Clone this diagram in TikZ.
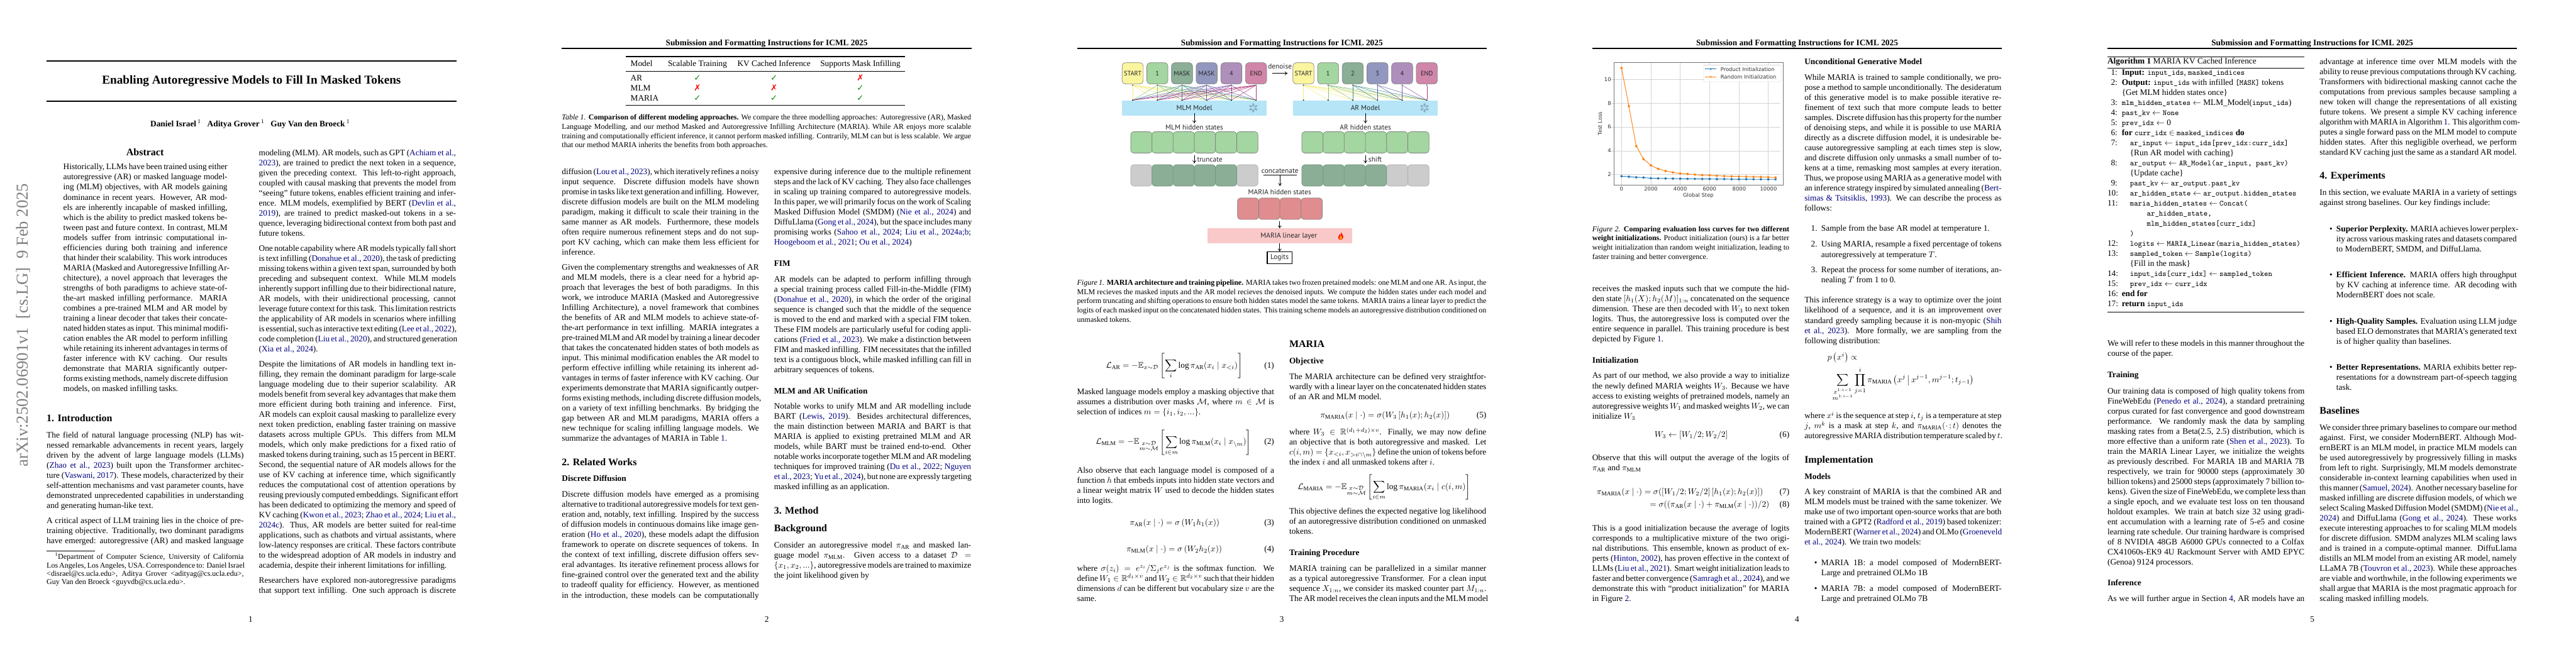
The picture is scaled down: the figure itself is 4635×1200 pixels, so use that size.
\documentclass[tikz,border=0pt]{standalone}
\usepackage{amsmath,amssymb}
\usepackage{fontspec}
\setmainfont{Liberation Serif}
\newfontfamily\figf{PT Sans}
\newfontfamily\plotf{DejaVu Sans}
\usetikzlibrary{arrows.meta}
\definecolor{lnk}{rgb}{0,0,0.5}
\definecolor{tka}{HTML}{FBF5A0}\definecolor{tkb}{HTML}{A3D6A0}\definecolor{tkc}{HTML}{8AAE96}
\definecolor{tkd}{HTML}{9297BF}\definecolor{tke}{HTML}{AE8FBC}\definecolor{tkf}{HTML}{D086A8}
\definecolor{lna}{HTML}{F2EA5A}\definecolor{lnb}{HTML}{7DB96A}\definecolor{lnc}{HTML}{1F7A6B}
\definecolor{lnd}{HTML}{4B4F9E}\definecolor{lne}{HTML}{7B3FA0}\definecolor{lnf}{HTML}{A0185F}
\definecolor{modelblue}{HTML}{B5E5F7}\definecolor{linpink}{HTML}{F9C9C9}\definecolor{hidred}{HTML}{E08D90}
\definecolor{hidgray}{HTML}{CCCCCC}\definecolor{edgegray}{HTML}{7F7F7F}\definecolor{flake}{HTML}{7E9BB0}
\definecolor{plotblue}{HTML}{1F77B4}\definecolor{plotorange}{HTML}{FF7F0E}\definecolor{gridc}{HTML}{D4D4D4}
\definecolor{okgreen}{HTML}{0A8A0A}
\newdimen\jw
\newcommand\JJ[1]{\hbox to\jw{#1}}
\newcommand\EE[1]{\hbox to\jw{#1\hfil}}
\newcommand\cit[1]{\textcolor{lnk}{#1}}
\newcommand\ttc[1]{{\fontsize{9.2}{12}\selectfont\ttfamily #1}}
\newcommand\cw{234.87pt}\newcommand\abw{195.6pt}\newcommand\fw{487.8pt}\newcommand\bw{215pt}
% name, x, y, width, pitch, lines
\newcommand\pblock[6]{\node[txt] (#1) at (#2,#3) {\jw=#4\relax\vtop{\baselineskip=#5\lineskiplimit=-100pt\hfuzz=20pt\hbadness=10000 #6}};}
\newcommand\lab[4]{\node[txt] (#1) at (#2,#3) {#4};}
\newcommand\hdg[5]{\node[txt,font=\bfseries\fontsize{#4}{#4}\selectfont] (#1) at (#2,#3) {#5};}
\newcommand\eqn[4]{\node[txt,anchor=base east] (#1) at (#2,#3) {(#4)};}
\newcommand\AL[3]{\hbox{\hbox to 11.9pt{\hfil #1}\hskip 5.1pt\hskip #2\relax #3}}
\newcommand\pagehead[3]{\node[anchor=base,inner sep=0,font=\bfseries] (#1) at (#2+368.5,81.5) {Submission and Formatting Instructions for ICML 2025};
 \draw[line width=1pt] (#2,87.3) -- (#2+737,87.3);
 \node[anchor=base,inner sep=0] (#3) at (#2+368.5,1120) {\pgfmathparse{int((#2-84)/927+1)}\pgfmathresult};}
\newcommand\flakeicon[3]{\begin{scope}[shift={(#2,#3)},flake,line width=.45pt]
 \coordinate (#1) at (0,0);
 \foreach \a in {30,90,...,330}{\draw (\a:2)--(\a:8.5); \draw (\a:5.2)--++(\a+45:2.6); \draw (\a:5.2)--++(\a-45:2.6);}
 \draw (30:5.2)--(90:5.2)--(150:5.2)--(210:5.2)--(270:5.2)--(330:5.2)--cycle;
\end{scope}}
\tikzset{
 txt/.style={anchor=base west,inner sep=0,outer sep=0},
 tok/.style={draw=edgegray,line width=.5pt,rounded corners=4pt,minimum width=25.2pt,minimum height=25.4pt,inner sep=0,font=\figf\fontsize{7.8}{7.8}\selectfont,text=black!85},
 hid/.style={draw=edgegray,line width=.5pt,rounded corners=3.6pt,minimum width=25.25pt,minimum height=25.6pt,inner sep=0},
 flbl/.style={inner sep=0,font=\figf\fontsize{8.5}{8.5}\selectfont,text=black!85},
 farr/.style={-{To[length=3.4pt,width=4.5pt]},line width=.55pt},
 dotc/.style={circle,fill=black,inner sep=0,minimum size=1.4pt},
 edgeln/.style={line width=.4pt,opacity=.85},
 tbr/.style={line width=.6pt},
 ptick/.style={inner sep=0,font=\plotf\fontsize{6.3}{6.3}\selectfont,text=black!80},
}
\begin{document}
\begin{tikzpicture}[x=0.6625pt,y=-0.6625pt]
\useasboundingbox (0,0) rectangle (4635,1200);
\fill[white] (0,0) rectangle (4635,1200);
%%%%%%%%%%%%%%%% PAGE 1
\node[rotate=90,anchor=base,inner sep=0,text=black!50,font=\fontsize{20}{20}\selectfont] (stamp) at (50,585) {arXiv:2502.06901v1\ \ [cs.LG]\ \ 9 Feb 2025};
\draw[line width=1.1pt] (84,109.8) -- (821,109.8);
\draw[line width=1.1pt] (84,182) -- (821,182);
\node[anchor=base,inner sep=0,font=\bfseries\fontsize{14.4}{14.4}\selectfont] (title) at (452.5,151) {Enabling Autoregressive Models to Fill In Masked Tokens};
\node[anchor=base,inner sep=0,font=\bfseries] (authors) at (450,228) {Daniel Israel\,\textsuperscript{\mdseries 1}\ \ \ Aditya Grover\,\textsuperscript{\mdseries 1}\ \ \ Guy Van den Broeck\,\textsuperscript{\mdseries 1}};
\node[anchor=base,inner sep=0,font=\bfseries\fontsize{12}{12}\selectfont] (abshead) at (261,280) {Abstract};
\pblock{abs}{114}{305.5}{\abw}{12pt}{%
\JJ{Historically, LLMs have been trained using either}
\JJ{autoregressive (AR) or masked language model-}
\JJ{ing (MLM) objectives, with AR models gaining}
\JJ{dominance in recent years. However, AR mod-}
\JJ{els are inherently incapable of masked infilling,}
\JJ{which is the ability to predict masked tokens be-}
\JJ{tween past and future context. In contrast, MLM}
\JJ{models suffer from intrinsic computational in-}
\JJ{efficiencies during both training and inference}
\JJ{that hinder their scalability. This work introduces}
\JJ{MARIA (Masked and Autoregressive Infilling Ar-}
\JJ{chitecture), a novel approach that leverages the}
\JJ{strengths of both paradigms to achieve state-of-}
\JJ{the-art masked infilling performance. MARIA}
\JJ{combines a pre-trained MLM and AR model by}
\JJ{training a linear decoder that takes their concate-}
\JJ{nated hidden states as input. This minimal modifi-}
\JJ{cation enables the AR model to perform infilling}
\JJ{while retaining its inherent advantages in terms of}
\JJ{faster inference with KV caching. Our results}
\JJ{demonstrate that MARIA significantly outper-}
\JJ{forms existing methods, namely discrete diffusion}
\EE{models, on masked infilling tasks.}}
\hdg{sec1}{84}{759}{12}{1. Introduction}
\pblock{intro1}{84}{788}{\cw}{12pt}{%
\JJ{The field of natural language processing (NLP) has wit-}
\JJ{nessed remarkable advancements in recent years, largely}
\JJ{driven by the advent of large language models (LLMs)}
\JJ{(\cit{Zhao et al., 2023}) built upon the Transformer architec-}
\JJ{ture (\cit{Vaswani, 2017}). These models, characterized by their}
\JJ{self-attention mechanisms and vast parameter counts, have}
\JJ{demonstrated unprecedented capabilities in understanding}
\EE{and generating human-like text.}}
\pblock{intro2}{84}{942}{\cw}{12pt}{%
\JJ{A critical aspect of LLM training lies in the choice of pre-}
\JJ{training objective. Traditionally, two dominant paradigms}
\JJ{have emerged: autoregressive (AR) and masked language}}
\draw[line width=.4pt] (84,991.5) -- (171,991.5);
\node[txt,font=\fontsize{9}{10}\selectfont] (foot) at (84,1007) {\jw=\cw\relax\vtop{\baselineskip=10pt\lineskiplimit=-100pt\hfuzz=20pt\hbadness=10000
\JJ{\hskip 10pt\textsuperscript{1}Department of Computer Science, University of California}
\JJ{Los Angeles, Los Angeles, USA. Correspondence to: Daniel Israel}
\JJ{<disrael@cs.ucla.edu>, Aditya Grover <adityag@cs.ucla.edu>,}
\EE{Guy Van den Broeck <guyvdb@cs.ucla.edu>.}}};
\pblock{r1a}{465.8}{279.5}{\cw}{12pt}{%
\JJ{modeling (MLM). AR models, such as GPT (\cit{Achiam et al.,}}
\JJ{\cit{2023}), are trained to predict the next token in a sequence,}
\JJ{given the preceding context. This left-to-right approach,}
\JJ{coupled with causal masking that prevents the model from}
\JJ{``seeing'' future tokens, enables efficient training and infer-}
\JJ{ence. MLM models, exemplified by BERT (\cit{Devlin et al.,}}
\JJ{\cit{2019}), are trained to predict masked-out tokens in a se-}
\JJ{quence, leveraging bidirectional context from both past and}
\EE{future tokens.}}
\pblock{r1b}{465.8}{451.7}{\cw}{12pt}{%
\JJ{One notable capability where AR models typically fall short}
\JJ{is text infilling (\cit{Donahue et al., 2020}), the task of predicting}
\JJ{missing tokens within a given text span, surrounded by both}
\JJ{preceding and subsequent context. While MLM models}
\JJ{inherently support infilling due to their bidirectional nature,}
\JJ{AR models, with their unidirectional processing, cannot}
\JJ{leverage future context for this task. This limitation restricts}
\JJ{the applicability of AR models in scenarios where infilling}
\JJ{is essential, such as interactive text editing (\cit{Lee et al., 2022}),}
\JJ{code completion (\cit{Liu et al., 2020}), and structured generation}
\EE{(\cit{Xia et al., 2024}).}}
\pblock{r1c}{465.8}{659.8}{\cw}{12pt}{%
\JJ{Despite the limitations of AR models in handling text in-}
\JJ{filling, they remain the dominant paradigm for large-scale}
\JJ{language modeling due to their superior scalability. AR}
\JJ{models benefit from several key advantages that make them}
\JJ{more efficient during both training and inference. First,}
\JJ{AR models can exploit causal masking to parallelize every}
\JJ{next token prediction, enabling faster training on massive}
\JJ{datasets across multiple GPUs. This differs from MLM}
\JJ{models, which only make predictions for a fixed ratio of}
\JJ{masked tokens during training, such as 15 percent in BERT.}
\JJ{Second, the sequential nature of AR models allows for the}
\JJ{use of KV caching at inference time, which significantly}
\JJ{reduces the computational cost of attention operations by}
\JJ{reusing previously computed embeddings. Significant effort}
\JJ{has been dedicated to optimizing the memory and speed of}
\JJ{KV caching (\cit{Kwon et al., 2023}; \cit{Zhao et al., 2024}; \cit{Liu et al.,}}
\JJ{\cit{2024c}). Thus, AR models are better suited for real-time}
\JJ{applications, such as chatbots and virtual assistants, where}
\JJ{low-latency responses are critical. These factors contribute}
\JJ{to the widespread adoption of AR models in industry and}
\EE{academia, despite their inherent limitations for infilling.}}
\pblock{r1d}{465.8}{1049.7}{\cw}{12pt}{%
\JJ{Researchers have explored non-autoregressive paradigms}
\JJ{that support text infilling. One such approach is discrete}}
\node[anchor=base,inner sep=0] (pn1) at (451,1120) {1};
%%%%%%%%%%%%%%%% PAGE 2
\pagehead{h2}{1011}{pn2}
\draw[line width=1pt] (1125.7,102) -- (1628.7,102);
\draw[tbr] (1125.7,127.8) -- (1628.7,127.8);
\draw[line width=.9pt] (1125.7,189.8) -- (1628.7,189.8);
\lab{t00}{1134.6}{119.5}{Model}
\node[anchor=base,inner sep=0] (t01) at (1255,119.5) {Scalable Training};
\node[anchor=base,inner sep=0] (t02) at (1392.6,119.5) {KV Cached Inference};
\node[anchor=base,inner sep=0] (t03) at (1548,119.5) {Supports Mask Infilling};
\lab{t10}{1134.6}{145}{AR}\lab{t20}{1134.6}{163}{MLM}\lab{t30}{1134.6}{181.2}{MARIA}
\tikzset{yes/.style={anchor=base,inner sep=0,text=okgreen,font=\plotf},no/.style={anchor=base,inner sep=0,text=red,font=\plotf}}
\node[yes] (t11) at (1255,145) {✓};\node[yes] (t12) at (1392.6,145) {✓};\node[no] (t13) at (1548,145) {✗};
\node[no] (t21) at (1255,163) {✗};\node[no] (t22) at (1392.6,163) {✗};\node[yes] (t23) at (1548,163) {✓};
\node[yes] (t31) at (1255,181.2) {✓};\node[yes] (t32) at (1392.6,181.2) {✓};\node[yes] (t33) at (1548,181.2) {✓};
\node[txt,font=\fontsize{9}{11}\selectfont] (cap1) at (1011,216) {\jw=\fw\relax\vtop{\baselineskip=11pt\lineskiplimit=-100pt\hfuzz=20pt\hbadness=10000
\JJ{\textit{Table 1.} \textbf{Comparison of different modeling approaches.} We compare the three modelling approaches: Autoregressive (AR), Masked}
\JJ{Language Modelling, and our method Masked and Autoregressive Infilling Architecture (MARIA). While AR enjoys more scalable}
\JJ{training and computationally efficient inference, it cannot perform masked infilling. Contrarily, MLM can but is less scalable. We argue}
\EE{that our method MARIA inherits the benefits from both approaches.}}};
\pblock{l2a}{1011}{313.5}{\cw}{12pt}{%
\JJ{diffusion (\cit{Lou et al., 2023}), which iteratively refines a noisy}
\JJ{input sequence. Discrete diffusion models have shown}
\JJ{promise in tasks like text generation and infilling. However,}
\JJ{discrete diffusion models are built on the MLM modeling}
\JJ{paradigm, making it difficult to scale their training in the}
\JJ{same manner as AR models. Furthermore, these models}
\JJ{often require numerous refinement steps and do not sup-}
\JJ{port KV caching, which can make them less efficient for}
\EE{inference.}}
\pblock{l2b}{1011}{485.7}{\cw}{12pt}{%
\JJ{Given the complementary strengths and weaknesses of AR}
\JJ{and MLM models, there is a clear need for a hybrid ap-}
\JJ{proach that leverages the best of both paradigms. In this}
\JJ{work, we introduce MARIA (Masked and Autoregressive}
\JJ{Infilling Architecture), a novel framework that combines}
\JJ{the benefits of AR and MLM models to achieve state-of-}
\JJ{the-art performance in text infilling. MARIA integrates a}
\JJ{pre-trained MLM and AR model by training a linear decoder}
\JJ{that takes the concatenated hidden states of both models as}
\JJ{input. This minimal modification enables the AR model to}
\JJ{perform effective infilling while retaining its inherent ad-}
\JJ{vantages in terms of faster inference with KV caching. Our}
\JJ{experiments demonstrate that MARIA significantly outper-}
\JJ{forms existing methods, including discrete diffusion models,}
\JJ{on a variety of text infilling benchmarks. By bridging the}
\JJ{gap between AR and MLM paradigms, MARIA offers a}
\JJ{new technique for scaling infilling language models. We}
\EE{summarize the advantages of MARIA in Table \cit{1}.}}
\hdg{sec2}{1011}{838}{12}{2. Related Works}
\hdg{ss21}{1011}{866.5}{10}{Discrete Diffusion}
\pblock{l2c}{1011}{895}{\cw}{12pt}{%
\JJ{Discrete diffusion models have emerged as a promising}
\JJ{alternative to traditional autoregressive models for text gen-}
\JJ{eration and, notably, text infilling. Inspired by the success}
\JJ{of diffusion models in continuous domains like image gen-}
\JJ{eration (\cit{Ho et al., 2020}), these models adapt the diffusion}
\JJ{framework to operate on discrete sequences of tokens. In}
\JJ{the context of text infilling, discrete diffusion offers sev-}
\JJ{eral advantages. Its iterative refinement process allows for}
\JJ{fine-grained control over the generated text and the ability}
\JJ{to tradeoff quality for efficiency. However, as mentioned}
\JJ{in the introduction, these models can be computationally}}
\pblock{r2a}{1392.8}{313.5}{\cw}{12pt}{%
\JJ{expensive during inference due to the multiple refinement}
\JJ{steps and the lack of KV caching. They also face challenges}
\JJ{in scaling up training compared to autoregressive models.}
\JJ{In this paper, we will primarily focus on the work of Scaling}
\JJ{Masked Diffusion Model (SMDM) (\cit{Nie et al., 2024}) and}
\JJ{DiffuLlama (\cit{Gong et al., 2024}), but the space includes many}
\JJ{promising works (\cit{Sahoo et al., 2024}; \cit{Liu et al., 2024a;b};}
\EE{\cit{Hoogeboom et al., 2021}; \cit{Ou et al., 2024})}}
\hdg{ss22}{1392.8}{479.5}{10}{FIM}
\pblock{r2b}{1392.8}{507}{\cw}{12pt}{%
\JJ{AR models can be adapted to perform infilling through}
\JJ{a special training process called Fill-in-the-Middle (FIM)}
\JJ{(\cit{Donahue et al., 2020}), in which the order of the original}
\JJ{sequence is changed such that the middle of the sequence}
\JJ{is moved to the end and marked with a special FIM token.}
\JJ{These FIM models are particularly useful for coding appli-}
\JJ{cations (\cit{Fried et al., 2023}). We make a distinction between}
\JJ{FIM and masked infilling. FIM necessitates that the infilled}
\JJ{text is a contiguous block, while masked infilling can fill in}
\EE{arbitrary sequences of tokens.}}
\hdg{ss23}{1392.8}{708.5}{10}{MLM and AR Unification}
\pblock{r2c}{1392.8}{736.3}{\cw}{12pt}{%
\JJ{Notable works to unify MLM and AR modelling include}
\JJ{BART (\cit{Lewis, 2019}). Besides architectural differences,}
\JJ{the main distinction between MARIA and BART is that}
\JJ{MARIA is applied to existing pretrained MLM and AR}
\JJ{models, while BART must be trained end-to-end. Other}
\JJ{notable works incorporate together MLM and AR modeling}
\JJ{techniques for improved training (\cit{Du et al., 2022}; \cit{Nguyen}}
\JJ{\cit{et al., 2023}; \cit{Yu et al., 2024}), but none are expressly targeting}
\EE{masked infilling as an application.}}
\hdg{sec3}{1392.8}{925}{12}{3. Method}
\hdg{ss31}{1392.8}{957}{12}{Background}
\pblock{r2d}{1392.8}{986}{\cw}{12pt}{%
\JJ{Consider an autoregressive model $\pi_{\mathrm{AR}}$ and masked lan-}
\JJ{guage model $\pi_{\mathrm{MLM}}$. Given access to a dataset $\mathcal{D}=$}
\JJ{$\{x_1,x_2,...\}$, autoregressive models are trained to maximize}
\EE{the joint likelihood given by}}
%%%%%%%%%%%%%%%% PAGE 3
\pagehead{h3}{1938}{pn3}
% tokens MLM
\foreach \n/\x/\c/\t in {a/2038/tka/START,b/2082.4/tkb/1,c/2126.8/tkc/MASK,d/2171.2/tkd/MASK,e/2215.6/tke/4,f/2260/tkf/END}{
 \node[tok,fill=\c] (ml\n) at (\x,132) {\t};
 \node[dotc] (mt\n) at (\x,153.3) {};
 \node[dotc] (mb\n) at (\x,180.3) {};
}
\foreach \n/\x/\c/\t in {a/2345.3/tka/START,b/2389.7/tkb/1,c/2434.1/tkc/2,d/2478.5/tkd/3,e/2522.9/tke/4,f/2567.3/tkf/END}{
 \node[tok,fill=\c] (ar\n) at (\x,132) {\t};
 \node[dotc] (at\n) at (\x,153.3) {};
 \node[dotc] (ab\n) at (\x,180.3) {};
}
\foreach \n in {a,b,c,d,e,f}{\foreach \m in {a,b,c,d,e,f}{\draw[edgeln,color=ln\n] (mt\n)--(mb\m);}}
\foreach \n/\l in {a/{a,b,c,d,e,f},b/{b,c,d,e,f},c/{c,d,e,f},d/{d,e,f},e/{e,f},f/{f}}{\foreach \m in \l {\draw[edgeln,color=ln\n] (at\n)--(ab\m);}}
\node[fill=modelblue,minimum width=172.5pt,minimum height=17.9pt,inner sep=0,flbl] (mlmbox) at (2149,194.2) {MLM Model};
\node[fill=modelblue,minimum width=172.5pt,minimum height=17.9pt,inner sep=0,flbl] (arbox) at (2456.8,194.2) {AR Model};
\foreach \n/\x in {a/2038,b/2082.4,c/2126.8,d/2171.2,e/2215.6,f/2260}{\node[dotc] (mbt\n) at (\x,180.3) {};}
\foreach \n/\x in {a/2345.3,b/2389.7,c/2434.1,d/2478.5,e/2522.9,f/2567.3}{\node[dotc] (abt\n) at (\x,180.3) {};}
\flakeicon{fla}{2255}{194}\flakeicon{flb}{2563}{194}
\node[flbl] (dn) at (2303,120) {denoise};
\coordinate (dn1) at (2289.5,132);\coordinate (dn2) at (2316.8,132);
\draw[farr] (dn1)--(dn2);
\coordinate (a1) at (2149,204);\coordinate (a2) at (2149,222);
\coordinate (b1) at (2456.8,204);\coordinate (b2) at (2456.8,222);
\draw[farr] (a1)--(a2);\draw[farr] (b1)--(b2);
\node[flbl] (mh) at (2149,229) {MLM hidden states};
\node[flbl] (ah) at (2456.8,229) {AR hidden states};
\foreach \i in {0,...,5}{
 \node[hid,fill=tkb] (mh\i) at (2053.6+\i*38.15,256.3) {};
 \node[hid,fill=tkb] (ah\i) at (2361.4+\i*38.15,256.3) {};
}
\coordinate (c1) at (2149,280);\coordinate (c2) at (2149,294);
\coordinate (d1) at (2456.8,280);\coordinate (d2) at (2456.8,294);
\draw[farr] (c1)--(c2);\draw[farr] (d1)--(d2);
\node[flbl,anchor=west] (trc) at (2153.7,287) {truncate};
\node[flbl,anchor=west] (shf) at (2462,287) {shift};
\foreach \i/\c in {0/hidgray,5/hidgray,1/tkc,2/tkc,3/tkc,4/tkc}{
 \node[hid,fill=\c,draw=\c!85!black] (mq\i) at (2053.6+\i*38.15,315.7) {};
}
\foreach \i/\c in {4/hidgray,5/hidgray,0/tkc,1/tkc,2/tkc,3/tkc}{
 \node[hid,fill=\c,draw=\c!85!black] (aq\i) at (2361.4+\i*38.15,315.7) {};
}
\node[flbl] (cc) at (2303,308.3) {concatenate};
\coordinate (e0) at (2273,315.3);\coordinate (e2) at (2333.4,315.3);\coordinate (e1) at (2303,315.3);\coordinate (e3) at (2303,335);
\draw[line width=.7pt] (e0)--(e2);
\draw[farr] (e1)--(e3);
\node[flbl] (mah) at (2302.5,346.3) {MARIA hidden states};
\foreach \i in {0,...,3}{\node[hid,fill=hidred] (mr\i) at (2245.7+\i*38.15,375.7) {};}
\coordinate (f1) at (2302.5,398);\coordinate (f2) at (2302.5,411);
\draw[farr] (f1)--(f2);
\node[fill=linpink,minimum width=172.5pt,minimum height=18pt,inner sep=0] (lin) at (2303.1,424.4) {};
\node[flbl] (linl) at (2319,424.7) {MARIA linear layer};
\begin{scope}[shift={(2412.3,425)}]
 \fill[red!85!orange] (0,6.8) .. controls (-4.5,6.5) and (-5.5,2.5) .. (-3.5,-0.5) .. controls (-2.8,-2) and (-2.2,-2.5) .. (-2,-4) .. controls (-.8,-3.2) and (-.4,-2) .. (-.5,-1) .. controls (.6,-2.5) and (.8,-5) .. (.2,-7) .. controls (2.6,-5) and (4.5,-1.5) .. (4.6,1.5) .. controls (4.7,4.5) and (2.8,6.6) .. (0,6.8) -- cycle;
 \fill[orange!80!yellow] (0,6.3) .. controls (-2.6,6) and (-3,3) .. (-1.6,1) .. controls (-1,.2) and (-.3,-.5) .. (-.2,-1.5) .. controls (1.2,-.4) and (2.8,1.6) .. (2.6,3.6) .. controls (2.4,5.2) and (1.2,6.2) .. (0,6.3) -- cycle;
\end{scope}
\coordinate (g1) at (2302.5,438);\coordinate (g2) at (2302.5,452.7);
\draw[farr] (g1)--(g2);
\node[draw=black,line width=.8pt,minimum width=29.4pt,minimum height=14.6pt,inner sep=0,flbl] (logits) at (2302.3,463.7) {Logits};
\node[txt,font=\fontsize{9}{11}\selectfont] (cap2) at (1938,513) {\jw=\fw\relax\vtop{\baselineskip=11pt\lineskiplimit=-100pt\hfuzz=20pt\hbadness=10000
\JJ{\textit{Figure 1.} \textbf{MARIA architecture and training pipeline.} MARIA takes two frozen pretained models: one MLM and one AR. As input, the}
\JJ{MLM recieves the masked inputs and the AR model recieves the denoised inputs. We compute the hidden states under each model and}
\JJ{perform truncating and shifting operations to ensure both hidden states model the same tokens. MARIA trains a linear layer to predict the}
\JJ{logits of each masked input on the concatenated hidden states. This training scheme models an autoregressive distribution conditioned on}
\EE{unmasked tokens.}}};
\lab{eq1}{1990}{662}{$\displaystyle \mathcal{L}_{\mathrm{AR}}=-\mathbb{E}_{x\sim\mathcal{D}}\left[\sum_{i}\log\pi_{\mathrm{AR}}(x_i\mid x_{<i})\right]$}
\eqn{n1}{2292.5}{662}{1}
\pblock{l3a}{1938}{710}{\cw}{12pt}{%
\JJ{Masked language models employ a masking objective that}
\JJ{assumes a distribution over masks $\mathcal{M}$, where $m\in\mathcal{M}$ is}
\EE{selection of indices $m=\{i_1,i_2,...\}$.}}
\lab{eq2}{1971.6}{800}{$\displaystyle \mathcal{L}_{\mathrm{MLM}}=-\mathbb{E}_{\substack{x\sim\mathcal{D}\\ m\sim\mathcal{M}}}\left[\sum_{i\in m}\log\pi_{\mathrm{MLM}}(x_i\mid x_{\setminus m})\right]$}
\eqn{n2}{2292.5}{800}{2}
\pblock{l3b}{1938}{851.7}{\cw}{12pt}{%
\JJ{Also observe that each language model is composed of a}
\JJ{function $h$ that embeds inputs into hidden state vectors and}
\JJ{a linear weight matrix $W$ used to decode the hidden states}
\EE{into logits.}}
\lab{eq3}{2032.7}{945.5}{$\pi_{\mathrm{AR}}(x\mid\cdot)=\sigma\left(W_1h_1(x)\right)$}
\eqn{n3}{2292.5}{945.5}{3}
\lab{eq4}{2026.7}{993.2}{$\pi_{\mathrm{MLM}}(x\mid\cdot)=\sigma\left(W_2h_2(x)\right)$}
\eqn{n4}{2292.5}{993.2}{4}
\pblock{l3c}{1938}{1027.6}{\cw}{12pt}{%
\JJ{where $\sigma(z_i)=e^{z_i}/\Sigma_j e^{z_j}$ is the softmax function. We}
\JJ{define $W_1\in\mathbb{R}^{d_1\times v}$ and $W_2\in\mathbb{R}^{d_2\times v}$ such that their hidden}
\JJ{dimensions $d$ can be different but vocabulary size $v$ are the}
\EE{same.}}
\hdg{ss30}{2319.8}{625}{12}{MARIA}
\hdg{ss32}{2319.8}{655}{10}{Objective}
\pblock{r3a}{2319.8}{682.5}{\cw}{12pt}{%
\JJ{The MARIA architecture can be defined very straightfor-}
\JJ{wardly with a linear layer on the concatenated hidden states}
\EE{of an AR and MLM model.}}
\lab{eq5}{2375.5}{752}{$\pi_{\mathrm{MARIA}}(x\mid\cdot)=\sigma(W_3\left[h_1(x);h_2(x)\right])$}
\eqn{n5}{2674.4}{752}{5}
\pblock{r3b}{2319.8}{783}{\cw}{12pt}{%
\JJ{where $W_3\in\mathbb{R}^{(d_1+d_2)\times v}$. Finally, we may now define}
\JJ{an objective that is both autoregressive and masked. Let}
\JJ{$c(i,m)=\{x_{<i},x_{>i\cap\setminus m}\}$ define the union of tokens before}
\EE{the index $i$ and all unmasked tokens after $i$.}}
\lab{eq9}{2335}{880.5}{$\displaystyle \mathcal{L}_{\mathrm{MARIA}}=-\mathbb{E}_{\substack{x\sim\mathcal{D}\\ m\sim\mathcal{M}}}\left[\sum_{i\in m}\log\pi_{\mathrm{MARIA}}(x_i\mid c(i,m)\right]$}
\pblock{r3c}{2319.8}{925.4}{\cw}{12pt}{%
\JJ{This objective defines the expected negative log likelihood}
\JJ{of an autoregressive distribution conditioned on unmasked}
\EE{tokens.}}
\hdg{ss33}{2319.8}{1000}{10}{Training Procedure}
\pblock{r3d}{2319.8}{1027.6}{\cw}{12pt}{%
\JJ{MARIA training can be parallelized in a similar manner}
\JJ{as a typical autoregressive Transformer. For a clean input}
\JJ{sequence $X_{1:n}$, we consider its masked counter part $M_{1:n}$.}
\JJ{The AR model receives the clean inputs and the MLM model}}
%%%%%%%%%%%%%%%% PAGE 4
\pagehead{h4}{2865}{pn4}
\begin{scope}[shift={(2917.6,357)},x=0.01749pt,y=14.1775pt]
 \foreach \v in {0,2000,...,10000}{\draw[gridc,line width=.5pt] (\v,1.14) -- (\v,11.45);}
 \foreach \v in {2,4,...,10}{\draw[gridc,line width=.5pt] (-770,\v) -- (10840,\v);}
 \draw[plotblue,line width=.7pt,mark=*,mark size=1.15pt,mark options={fill=plotblue,draw=plotblue}] plot coordinates {(0,1.86)(500,1.82)(1000,1.77)(1500,1.75)(2000,1.69)(2500,1.68)(3000,1.67)(3500,1.66)(4000,1.65)(4500,1.64)(5000,1.64)(5500,1.63)(6000,1.63)(6500,1.62)(7000,1.62)(7500,1.61)(8000,1.61)(8500,1.61)(9000,1.60)(9500,1.60)(10000,1.60)(10500,1.60)};
 \draw[plotorange,line width=.7pt,mark=*,mark size=1.15pt,mark options={fill=plotorange,draw=plotorange}] plot coordinates {(0,10.96)(500,7.76)(1000,4.4)(1500,3.3)(2000,2.77)(2500,2.48)(3000,2.3)(3500,2.18)(4000,2.09)(4500,2.05)(5000,2.0)(5500,1.95)(6000,1.93)(6500,1.9)(7000,1.87)(7500,1.85)(8000,1.84)(8500,1.83)(9000,1.81)(9500,1.8)(10000,1.78)(10500,1.75)};
\end{scope}
\node[draw=black!55,line width=.55pt,minimum width=201.9pt,minimum height=146.1pt,inner sep=0] (axes) at (3056.4,222.3) {};
\node[draw=black!15,fill=white,fill opacity=.85,text opacity=1,line width=.4pt,rounded corners=1.5pt,minimum width=92.4pt,minimum height=20pt,inner sep=0] (legend) at (3135,132.2) {};
\coordinate (lg1a) at (3068,124.4);\coordinate (lg1b) at (3088.4,124.4);\coordinate (lg2a) at (3068,138.2);\coordinate (lg2b) at (3088.4,138.2);
\draw[plotblue,line width=.7pt] (lg1a)--(lg1b);\fill[plotblue] (3078.2,124.4) circle (1.7);
\draw[plotorange,line width=.7pt] (lg2a)--(lg2b);\fill[plotorange] (3078.2,138.2) circle (1.7);
\node[ptick,anchor=west] (lgt1) at (3095.5,124.4) {Product Initialization};
\node[ptick,anchor=west] (lgt2) at (3095.5,138.2) {Random Initialization};
\foreach \x/\t in {2917.6/0,2970.4/2000,3023.2/4000,3076/6000,3129.3/8000,3182/10000}{\node[ptick] (xt\t) at (\x,340.2) {\t};}
\foreach \y/\t in {143.1/10,185.6/8,228.5/6,271.3/4,314.2/2}{\node[ptick,anchor=east] (yt\t) at (2899,\y) {\t};}
\node[ptick] (xlab) at (3055.8,352) {Global Step};
\node[ptick,rotate=90] (ylab) at (2879,222.7) {Test Loss};
\node[txt,font=\fontsize{9}{11}\selectfont] (cap3) at (2865,416.5) {\jw=\cw\relax\vtop{\baselineskip=11pt\lineskiplimit=-100pt\hfuzz=20pt\hbadness=10000
\JJ{\textit{Figure 2.} \textbf{Comparing evaluation loss curves for two different}}
\JJ{\textbf{weight initializations.} Product initialization (ours) is a far better}
\JJ{weight initialization than random weight initialization, leading to}
\EE{faster training and better convergence.}}};
\pblock{l4a}{2865}{524}{\cw}{12pt}{%
\JJ{receives the masked inputs such that we compute the hid-}
\JJ{den state $[h_1(X);h_2(M)]_{1:n}$ concatenated on the sequence}
\JJ{dimension. These are then decoded with $W_3$ to next token}
\JJ{logits. Thus, the autoregressive loss is computed over the}
\JJ{entire sequence in parallel. This training procedure is best}
\EE{depicted by Figure \cit{1}.}}
\hdg{ss41}{2865}{653.4}{10}{Initialization}
\pblock{l4b}{2865}{681.2}{\cw}{12pt}{%
\JJ{As part of our method, we also provide a way to initialize}
\JJ{the newly defined MARIA weights $W_3$. Because we have}
\JJ{access to existing weights of pretrained models, namely an}
\JJ{autoregressive weights $W_1$ and masked weights $W_2$, we can}
\EE{initialize $W_3$}}
\lab{eq6}{2977}{786.8}{$W_3\leftarrow[W_1/2;W_2/2]$}
\eqn{n6}{3219.6}{786.8}{6}
\pblock{l4c}{2865}{828.5}{\cw}{12pt}{%
\JJ{Observe that this will output the average of the logits of}
\EE{$\pi_{\mathrm{AR}}$ and $\pi_{\mathrm{MLM}}$}}
\lab{eq7}{2873}{890}{$\pi_{\mathrm{MARIA}}(x\mid\cdot)=\sigma([W_1/2;W_2/2]\left[h_1(x);h_2(x)\right])$}
\eqn{n7}{3219.6}{890}{7}
\lab{eq8}{2968.6}{913}{$=\sigma((\pi_{\mathrm{AR}}(x\mid\cdot)+\pi_{\mathrm{MLM}}(x\mid\cdot))/2)$}
\eqn{n8}{3219.6}{913}{8}
\pblock{l4d}{2865}{955.6}{\cw}{12pt}{%
\JJ{This is a good initialization because the average of logits}
\JJ{corresponds to a multiplicative mixture of the two origi-}
\JJ{nal distributions. This ensemble, known as product of ex-}
\JJ{perts (\cit{Hinton, 2002}), has proven effective in the context of}
\JJ{LLMs (\cit{Liu et al., 2021}). Smart weight initialization leads to}
\JJ{faster and better convergence (\cit{Samragh et al., 2024}), and we}
\JJ{demonstrate this with ``product initialization'' for MARIA}
\EE{in Figure \cit{2}.}}
\hdg{ss42}{3246.8}{116}{10}{Unconditional Generative Model}
\pblock{r4a}{3246.8}{144}{\cw}{12pt}{%
\JJ{While MARIA is trained to sample conditionally, we pro-}
\JJ{pose a method to sample unconditionally. The desideratum}
\JJ{of this generative model is to make possible iterative re-}
\JJ{finement of text such that more compute leads to better}
\JJ{samples. Discrete diffusion has this property for the number}
\JJ{of denoising steps, and while it is possible to use MARIA}
\JJ{directly as a discrete diffusion model, it is undesirable be-}
\JJ{cause autoregressive sampling at each times step is slow,}
\JJ{and discrete diffusion only unmasks a small number of to-}
\JJ{kens at a time, remasking most samples at every iteration.}
\JJ{Thus, we propose using MARIA as a generative model with}
\JJ{an inference strategy inspired by simulated annealing (\cit{Bert-}}
\JJ{\cit{simas \& Tsitsiklis, 1993}). We can describe the process as}
\EE{follows:}}
\lab{li1}{3258.6}{415.7}{1.}
\pblock{lt1}{3277}{415.7}{\bw}{12pt}{\EE{Sample from the base AR model at temperature 1.}}
\lab{li2}{3258.6}{444.7}{2.}
\pblock{lt2}{3277}{444.7}{\bw}{12pt}{\JJ{Using MARIA, resample a fixed percentage of tokens}\EE{autoregressively at temperature $T$.}}
\lab{li3}{3258.6}{491}{3.}
\pblock{lt3}{3277}{491}{\bw}{12pt}{\JJ{Repeat the process for some number of iterations, an-}\EE{nealing $T$ from 1 to 0.}}
\pblock{r4b}{3246.8}{545.4}{\cw}{12pt}{%
\JJ{This inference strategy is a way to optimize over the joint}
\JJ{likelihood of a sequence, and it is an improvement over}
\JJ{standard greedy sampling because it is non-myopic (\cit{Shih}}
\JJ{\cit{et al., 2023}). More formally, we are sampling from the}
\EE{following distribution:}}
\lab{eq10}{3288.3}{647.5}{$p\left(x^i\right)\propto$}
\lab{eq11}{3297}{688.5}{$\displaystyle \sum_{\substack{x^{1:i-1}\\ m^{1:i-1}}}\prod_{j=1}^{i}\pi_{\mathrm{MARIA}}\left(x^j\,\middle|\,x^{j-1},m^{j-1};t_{j-1}\right)$}
\pblock{r4c}{3246.8}{753.5}{\cw}{12pt}{%
\JJ{where $x^i$ is the sequence at step $i$, $t_j$ is a temperature at step}
\JJ{$j$, $m^k$ is a mask at step $k$, and $\pi_{\mathrm{MARIA}}(\cdot\,;t)$ denotes the}
\EE{autoregressive MARIA distribution temperature scaled by $t$.}}
\hdg{ss43}{3246.8}{833}{12}{Implementation}
\hdg{ss44}{3246.8}{862.7}{10}{Models}
\pblock{r4d}{3246.8}{890.5}{\cw}{12pt}{%
\JJ{A key constraint of MARIA is that the combined AR and}
\JJ{MLM models must be trained with the same tokenizer. We}
\JJ{make use of two important open-source works that are both}
\JJ{trained with a GPT2 (\cit{Radford et al., 2019}) based tokenizer:}
\JJ{ModernBERT (\cit{Warner et al., 2024}) and OLMo (\cit{Groeneveld}}
\EE{\cit{et al., 2024}). We train two models:}}
\lab{bu1}{3264.5}{1017.5}{\textbullet}
\pblock{bt1}{3277}{1017.5}{\bw}{12pt}{\JJ{MARIA 1B: a model composed of ModernBERT-}\EE{Large and pretrained OLMo 1B}}
\lab{bu2}{3264.5}{1064.3}{\textbullet}
\pblock{bt2}{3277}{1064.3}{\bw}{12pt}{\JJ{MARIA 7B: a model composed of ModernBERT-}\EE{Large and pretrained OLMo 7B}}
%%%%%%%%%%%%%%%% PAGE 5
\pagehead{h5}{3792}{pn5}
\draw[line width=.8pt] (3792,102) -- (4146.5,102);
\draw[line width=.5pt] (3792,122.8) -- (4146.5,122.8);
\draw[line width=.8pt] (3792,561.8) -- (4146.5,561.8);
\lab{algt}{3792}{115.2}{\textbf{Algorithm 1} MARIA KV Cached Inference}
\node[txt] (alg) at (3792,135.5) {\vtop{\baselineskip=12pt\lineskiplimit=-100pt
\AL{1:}{0pt}{\textbf{Input:} \ttc{input\_ids}, \ttc{masked\_indices}}
\AL{2:}{0pt}{\textbf{Output:} \ttc{input\_ids} with infilled \ttc{[MASK]} tokens}
\AL{}{0pt}{\{Get MLM hidden states once\}}
\AL{3:}{0pt}{\ttc{mlm\_hidden\_states} $\leftarrow$ MLM\_Model(\ttc{input\_ids})}
\AL{4:}{0pt}{\ttc{past\_kv} $\leftarrow$ \ttc{None}}
\AL{5:}{0pt}{\ttc{prev\_idx} $\leftarrow$ 0}
\AL{6:}{0pt}{\textbf{for} \ttc{curr\_idx} $\in$ \ttc{masked\_indices} \textbf{do}}
\AL{7:}{9.8pt}{\ttc{ar\_input} $\leftarrow$ \ttc{input\_ids[prev\_idx:curr\_idx]}}
\AL{}{9.8pt}{\{Run AR model with caching\}}
\AL{8:}{9.8pt}{\ttc{ar\_output} $\leftarrow$ \ttc{AR\_Model(ar\_input, past\_kv)}}
\AL{}{9.8pt}{\{Update cache\}}
\AL{9:}{9.8pt}{\ttc{past\_kv} $\leftarrow$ \ttc{ar\_output.past\_kv}}
\AL{10:}{9.8pt}{\ttc{ar\_hidden\_state} $\leftarrow$ \ttc{ar\_output.hidden\_states}}
\AL{11:}{9.8pt}{\ttc{maria\_hidden\_states} $\leftarrow$ \ttc{Concat(}}
\AL{}{29.9pt}{\ttc{ar\_hidden\_state,}}
\AL{}{29.9pt}{\ttc{mlm\_hidden\_states[curr\_idx]}}
\AL{}{9.8pt}{\ttc{)}}
\AL{12:}{9.8pt}{\ttc{logits} $\leftarrow$ \ttc{MARIA\_Linear(maria\_hidden\_states)}}
\AL{13:}{9.8pt}{\ttc{sampled\_token} $\leftarrow$ \ttc{Sample(logits)}}
\AL{}{9.8pt}{\{Fill in the mask\}}
\AL{14:}{9.8pt}{\ttc{input\_ids[curr\_idx]} $\leftarrow$ \ttc{sampled\_token}}
\AL{15:}{9.8pt}{\ttc{prev\_idx} $\leftarrow$ \ttc{curr\_idx}}
\AL{16:}{0pt}{\textbf{end for}}
\AL{17:}{0pt}{\textbf{return} \ttc{input\_ids}}
}};
\pblock{l5a}{3792}{623.4}{\cw}{12pt}{%
\JJ{We will refer to these models in this manner throughout the}
\EE{course of the paper.}}
\hdg{ss51}{3792}{680}{10}{Training}
\pblock{l5b}{3792}{708.4}{\cw}{12pt}{%
\JJ{Our training data is composed of high quality tokens from}
\JJ{FineWebEdu (\cit{Penedo et al., 2024}), a standard pretraining}
\JJ{corpus curated for fast convergence and good downstream}
\JJ{performance. We randomly mask the data by sampling}
\JJ{masking rates from a Beta(2.5, 2.5) distribution, which is}
\JJ{more effective than a uniform rate (\cit{Shen et al., 2023}). To}
\JJ{train the MARIA Linear Layer, we initialize the weights}
\JJ{as previously described. For MARIA 1B and MARIA 7B}
\JJ{respectively, we train for 90000 steps (approximately 30}
\JJ{billion tokens) and 25000 steps (approximately 7 billion to-}
\JJ{kens). Given the size of FineWebEdu, we complete less than}
\JJ{a single epoch, and we evaluate test loss on ten thousand}
\JJ{holdout examples. We train at batch size 32 using gradi-}
\JJ{ent accumulation with a learning rate of 5-e5 and cosine}
\JJ{learning rate schedule. Our training hardware is comprised}
\JJ{of 8 NVIDIA 48GB A6000 GPUs connected to a Colfax}
\JJ{CX41060s-EK9 4U Rackmount Server with AMD EPYC}
\EE{(Genoa) 9124 processors.}}
\hdg{ss52}{3792}{1054.4}{10}{Inference}
\pblock{l5c}{3792}{1082.6}{\cw}{12pt}{%
\JJ{As we will further argue in Section \cit{4}, AR models have an}}
\pblock{r5a}{4173.8}{115.6}{\cw}{12pt}{%
\JJ{advantage at inference time over MLM models with the}
\JJ{ability to reuse previous computations through KV caching.}
\JJ{Transformers with bidirectional masking cannot cache the}
\JJ{computations from previous samples because sampling a}
\JJ{new token will change the representations of all existing}
\JJ{future tokens. We present a simple KV caching inference}
\JJ{algorithm with MARIA in Algorithm \cit{1}. This algorithm com-}
\JJ{putes a single forward pass on the MLM model to compute}
\JJ{hidden states. After this negligible overhead, we perform}
\EE{standard KV caching just the same as a standard AR model.}}
\hdg{sec4}{4173.8}{322}{12}{4. Experiments}
\pblock{r5b}{4173.8}{351.4}{\cw}{12pt}{%
\JJ{In this section, we evaluate MARIA in a variety of settings}
\EE{against strong baselines. Our key findings include:}}
\lab{bu3}{4191.5}{416.8}{\textbullet}
\pblock{bt3}{4203.8}{416.8}{\bw}{12pt}{%
\JJ{\textbf{Superior Perplexity.} MARIA achieves lower perplex-}
\JJ{ity across various masking rates and datasets compared}
\EE{to ModernBERT, SMDM, and DiffuLlama.}}
\lab{bu4}{4191.5}{500}{\textbullet}
\pblock{bt4}{4203.8}{500}{\bw}{12pt}{%
\JJ{\textbf{Efficient Inference.} MARIA offers high throughput}
\JJ{by KV caching at inference time. AR decoding with}
\EE{ModernBERT does not scale.}}
\lab{bu5}{4191.5}{583}{\textbullet}
\pblock{bt5}{4203.8}{583}{\bw}{12pt}{%
\JJ{\textbf{High-Quality Samples.} Evaluation using LLM judge}
\JJ{based ELO demonstrates that MARIA's generated text}
\EE{is of higher quality than baselines.}}
\lab{bu6}{4191.5}{665.5}{\textbullet}
\pblock{bt6}{4203.8}{665.5}{\bw}{12pt}{%
\JJ{\textbf{Better Representations.} MARIA exhibits better rep-}
\JJ{resentations for a downstream part-of-speech tagging}
\EE{task.}}
\hdg{ss53}{4173.8}{745}{12}{Baselines}
\pblock{r5c}{4173.8}{774.2}{\cw}{12pt}{%
\JJ{We consider three primary baselines to compare our method}
\JJ{against. First, we consider ModernBERT. Although Mod-}
\JJ{ernBERT is an MLM model, in practice MLM models can}
\JJ{be used autoregressively by progressively filling in masks}
\JJ{from left to right. Surprisingly, MLM models demonstrate}
\JJ{considerable in-context learning capabilities when used in}
\JJ{this manner (\cit{Samuel, 2024}). Another necessary baseline for}
\JJ{masked infilling are discrete diffusion models, of which we}
\JJ{select Scaling Masked Diffusion Model (SMDM) (\cit{Nie et al.,}}
\JJ{\cit{2024}) and DiffuLlama (\cit{Gong et al., 2024}). These works}
\JJ{execute interesting approaches to for scaling MLM models}
\JJ{for discrete diffusion. SMDM analyzes MLM scaling laws}
\JJ{and is trained in a compute-optimal manner. DiffuLlama}
\JJ{distills an MLM model from an existing AR model, namely}
\JJ{LLaMA 7B (\cit{Touvron et al., 2023}). While these approaches}
\JJ{are viable and worthwhile, in the following experiments we}
\JJ{shall argue that MARIA is the most pragmatic approach for}
\EE{scaling masked infilling models.}}
\end{tikzpicture}
\end{document}
